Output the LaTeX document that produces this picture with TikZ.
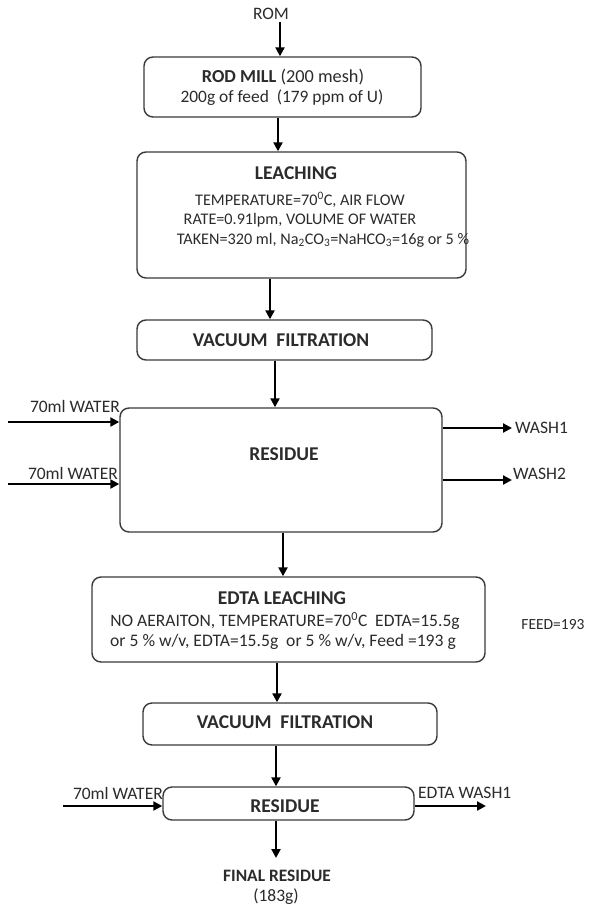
\documentclass[tikz,border=0pt]{standalone}
\usepackage{fontspec}
\setmainfont{Carlito}
\usetikzlibrary{arrows.meta}
\definecolor{txt}{HTML}{2B2B2B}
\definecolor{edge}{HTML}{3A3A3A}
\tikzset{
  pbox/.style={draw=edge, line width=1.4pt, rounded corners=9pt, inner sep=0pt},
  arr/.style={draw=black, line width=2.2pt, -{Triangle[length=9pt,width=9pt]}},
  lbl/.style={text=txt, inner sep=0pt, font=\fontsize{17.5}{20}\selectfont},
  body/.style={text=txt, inner sep=0pt, font=\fontsize{16.2}{19}\selectfont},
  head/.style={text=txt, inner sep=0pt, font=\fontsize{19.5}{22}\selectfont\bfseries},
}
\begin{document}
\begin{tikzpicture}[x=1pt,y=-1pt]
\useasboundingbox (0,0) rectangle (592,905);
\fill[white] (0,0) rectangle (592,905);
% boxes
\node[pbox, minimum width=277pt, minimum height=60pt] (rod) at (282.5,87) {};
\node[pbox, minimum width=329pt, minimum height=126pt] (leach) at (301.5,215) {};
\node[pbox, minimum width=295pt, minimum height=40pt] (vf1) at (284.5,340) {};
\node[pbox, minimum width=322pt, minimum height=124pt] (res1) at (281,470) {};
\node[pbox, minimum width=393pt, minimum height=85pt] (edta) at (288.5,619.5) {};
\node[pbox, minimum width=294pt, minimum height=42pt] (vf2) at (290,724) {};
\node[pbox, minimum width=251pt, minimum height=33pt] (res2) at (288.5,803.5) {};
% texts in boxes
\node[body, font=\fontsize{18.3}{21}\selectfont] (rodt1) at (283,77) {\textbf{ROD MILL} (200 mesh)};
\node[body, font=\fontsize{17.4}{21}\selectfont] (rodt2) at (282,98) {200g of feed\ \ (179 ppm of U)};
\node[head] (leacht0) at (296,173) {LEACHING};
\node[body] (leacht1) at (300,200) {TEMPERATURE=70\textsuperscript{0}C, AIR FLOW};
\node[body] (leacht2) at (300,220) {RATE=0.91lpm, VOLUME OF WATER};
\node[body] (leacht3) at (323,240) {TAKEN=320 ml, Na\textsubscript{2}CO\textsubscript{3}=NaHCO\textsubscript{3}=16g or 5 \%};
\node[head] (vf1t) at (281,340) {VACUUM\ \ FILTRATION};
\node[head] (res1t) at (284,454) {RESIDUE};
\node[head] (edtat0) at (282,598) {EDTA LEACHING};
\node[body, font=\fontsize{17.5}{20}\selectfont] (edtat1) at (285,621) {NO AERAITON, TEMPERATURE=70\textsuperscript{0}C\ \ EDTA=15.5g};
\node[body, font=\fontsize{17.6}{20}\selectfont] (edtat2) at (283,642) {or 5 \% w/v, EDTA=15.5g\ \ or 5 \% w/v, Feed =193 g};
\node[head] (vf2t) at (285,722) {VACUUM\ \ FILTRATION};
\node[head] (res2t) at (285,806) {RESIDUE};
% free labels
\node[lbl] (rom) at (271,14) {ROM};
\node[lbl, anchor=east] (w1) at (120,406) {70ml WATER};
\node[lbl, anchor=east] (w2) at (118,473) {70ml WATER};
\node[lbl, anchor=west] (wash1) at (515,428) {WASH1};
\node[lbl, anchor=west] (wash2) at (513,474) {WASH2};
\node[lbl, font=\fontsize{15.5}{18}\selectfont] (feed) at (553,625) {FEED=193};
\node[lbl, anchor=east] (w3) at (163,793) {70ml WATER};
\node[lbl, anchor=west] (ew1) at (418,793) {EDTA WASH1};
\node[head, font=\fontsize{17.4}{20}\selectfont\bfseries] (fin) at (277,876) {FINAL RESIDUE};
\node[lbl] (fing) at (276,897) {(183g)};
% free ends
\coordinate (inA) at (8,422);
\coordinate (inB) at (8,484);
\coordinate (outA) at (512,428);
\coordinate (outB) at (512,480);
\coordinate (inC) at (63,806);
\coordinate (outC) at (486,806);
\coordinate (finA) at (276,858);
% vertical arrows
\draw[arr] (280,0 |- rom.south) ++(0,2) -- (280,0 |- rod.north);
\draw[arr] (278,0 |- rod.south) -- (278,0 |- leach.north);
\draw[arr] (270,0 |- leach.south) -- (270,0 |- vf1.north);
\draw[arr] (275,0 |- vf1.south) -- (275,0 |- res1.north);
\draw[arr] (283,0 |- res1.south) -- (283,0 |- edta.north);
\draw[arr] (277,0 |- edta.south) -- (277,0 |- vf2.north);
\draw[arr] (276,0 |- vf2.south) -- (276,0 |- res2.north);
\draw[arr] (276,0 |- res2.south) -- (finA);
% horizontal arrows
\draw[arr] (inA) -- (inA -| res1.west);
\draw[arr] (inB) -- (inB -| res1.west);
\draw[arr] (outA -| res1.east) -- (outA);
\draw[arr] (outB -| res1.east) -- (outB);
\draw[arr] (inC) -- (inC -| res2.west);
\draw[arr] (outC -| res2.east) -- (outC);
\end{tikzpicture}
\end{document}
